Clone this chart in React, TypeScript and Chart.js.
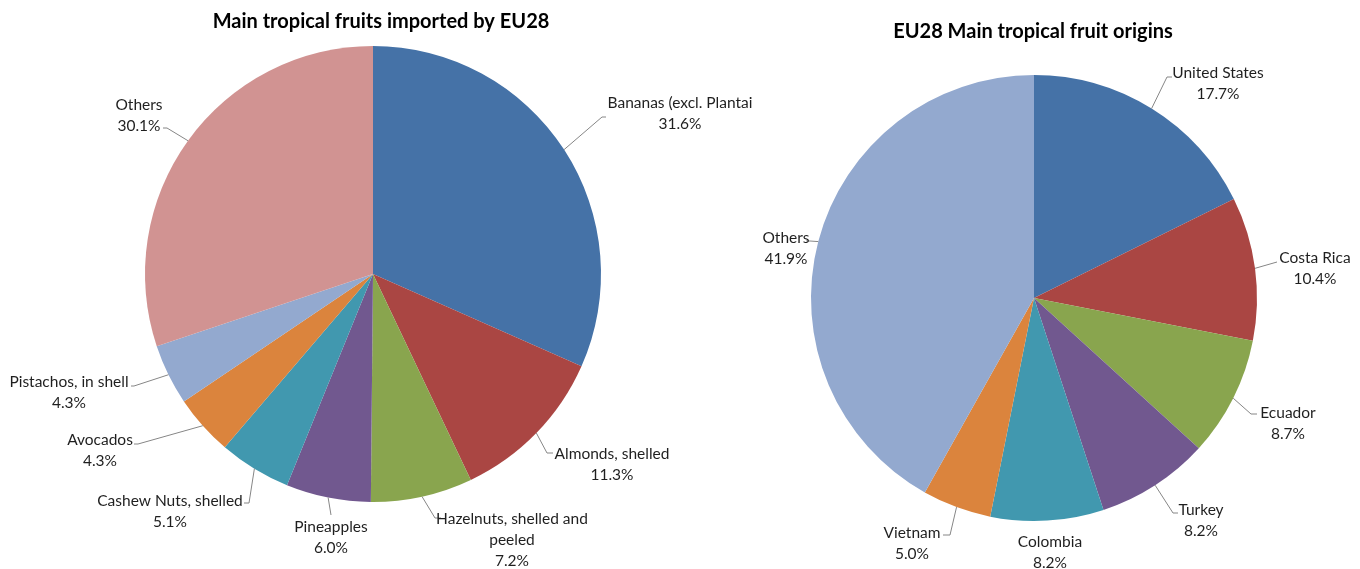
import React, { useEffect, useRef } from "react";
import { Chart, registerables } from "chart.js";

Chart.register(...registerables);

// ---------- data ----------
const leftTitle = "Main tropical fruits imported by EU28";
const leftCategories = [
  "Bananas (excl. Plantai",
  "Almonds, shelled",
  "Hazelnuts, shelled and\npeeled",
  "Pineapples",
  "Cashew Nuts, shelled",
  "Avocados",
  "Pistachos, in shell",
  "Others",
];
const leftValues = [31.6, 11.3, 7.2, 6.0, 5.1, 4.3, 4.3, 30.1];

const rightTitle = "EU28 Main tropical fruit origins";
const rightCategories = [
  "United States",
  "Costa Rica",
  "Ecuador",
  "Turkey",
  "Colombia",
  "Vietnam",
  "Others",
];
const rightValues = [17.7, 10.4, 8.7, 8.2, 8.2, 5.0, 41.9];

// ---------- styles / layout ----------
const leftColors = ["#4572A7", "#AA4643", "#89A54E", "#71588F", "#4198AF", "#DB843D", "#93A9CF", "#D19392"];
const rightColors = ["#4572A7", "#AA4643", "#89A54E", "#71588F", "#4198AF", "#DB843D", "#93A9CF"];

type LabelPos = { tx: number; ty: number; leader: number[][] };

// page coordinates: text centre of first line, leader-line points after the slice edge
const leftLabelPos: LabelPos[] = [
  { tx: 680, ty: 103, leader: [[602, 117], [606, 117]] },
  { tx: 612, ty: 454, leader: [[547, 453], [553, 453]] },
  { tx: 512, ty: 519, leader: [[435, 518], [441, 518]] },
  { tx: 331, ty: 527, leader: [[331, 515]] },
  { tx: 170, ty: 501, leader: [[249, 503], [244, 503]] },
  { tx: 100, ty: 440, leader: [[138, 444], [134, 444]] },
  { tx: 69, ty: 382, leader: [[134, 386], [131, 386]] },
  { tx: 139, ty: 105, leader: [[167, 128], [163, 128]] },
];
const rightLabelPos: LabelPos[] = [
  { tx: 1218, ty: 73, leader: [[1167, 77], [1172, 77]] },
  { tx: 1315, ty: 258, leader: [[1277, 262]] },
  { tx: 1288, ty: 413, leader: [[1251, 414], [1257, 414]] },
  { tx: 1201, ty: 510, leader: [[1173, 513], [1178, 513]] },
  { tx: 1050, ty: 542, leader: [] },
  { tx: 912, ty: 533, leader: [[950, 535], [943, 535]] },
  { tx: 786, ty: 238, leader: [[810, 241], [806, 241]] },
];

const FONT_FAMILY = "Lato, 'Open Sans', 'DejaVu Sans', sans-serif";
const LABEL_FONT = `15.5px ${FONT_FAMILY}`;
const TITLE_FONT = `bold 20px ${FONT_FAMILY}`;
const TEXT_COLOR = "#1f1f1f";
const LINE_COLOR = "#868686";
const LINE_HEIGHT = 21;

type PieSpec = {
  title: string;
  titleX: number;
  titleY: number;
  categories: string[];
  values: number[];
  colors: string[];
  labelPos: LabelPos[];
  padding: { left: number; right: number; top: number; bottom: number };
};

const CANVAS_W = 1360;
const CANVAS_H = 569;

const leftSpec: PieSpec = {
  title: leftTitle,
  titleX: 381,
  titleY: 22,
  categories: leftCategories,
  values: leftValues,
  colors: leftColors,
  labelPos: leftLabelPos,
  // centre (373, 274), radius 228
  padding: { left: 145, right: CANVAS_W - 601, top: 46, bottom: CANVAS_H - 502 },
};

const rightSpec: PieSpec = {
  title: rightTitle,
  titleX: 1033,
  titleY: 32,
  categories: rightCategories,
  values: rightValues,
  colors: rightColors,
  labelPos: rightLabelPos,
  // centre (1034, 298), radius 223
  padding: { left: 1034 - 223, right: CANVAS_W - (1034 + 223), top: 75, bottom: CANVAS_H - 521 },
};

function makeLabelPlugin(spec: PieSpec) {
  return {
    id: "pieLabels",
    afterDatasetsDraw(chart: any) {
      const ctx = chart.ctx as CanvasRenderingContext2D;
      const meta = chart.getDatasetMeta(0);
      ctx.save();
      ctx.font = TITLE_FONT;
      ctx.fillStyle = "#000000";
      ctx.textAlign = "center";
      ctx.textBaseline = "middle";
      ctx.fillText(spec.title, spec.titleX, spec.titleY);

      meta.data.forEach((arc: any, i: number) => {
        const { x, y, startAngle, endAngle, outerRadius } = arc.getProps(
          ["x", "y", "startAngle", "endAngle", "outerRadius"],
          true
        );
        const mid = (startAngle + endAngle) / 2;
        const ex = x + Math.cos(mid) * outerRadius;
        const ey = y + Math.sin(mid) * outerRadius;
        const pos = spec.labelPos[i];
        if (pos.leader.length) {
          ctx.beginPath();
          ctx.strokeStyle = LINE_COLOR;
          ctx.lineWidth = 1;
          ctx.moveTo(ex, ey);
          pos.leader.forEach((p) => ctx.lineTo(p[0], p[1]));
          ctx.stroke();
        }
        const lines = spec.categories[i].split("\n");
        lines.push(spec.values[i].toFixed(1) + "%");
        ctx.font = LABEL_FONT;
        ctx.fillStyle = TEXT_COLOR;
        ctx.textAlign = "center";
        ctx.textBaseline = "middle";
        lines.forEach((ln, k) => {
          ctx.fillText(ln, pos.tx, pos.ty + k * LINE_HEIGHT);
        });
      });
      ctx.restore();
    },
  };
}

function PieCanvas({ spec }: { spec: PieSpec }) {
  const ref = useRef<HTMLCanvasElement | null>(null);
  useEffect(() => {
    if (!ref.current) return;
    const chart = new Chart(ref.current, {
      type: "pie",
      data: {
        labels: spec.categories,
        datasets: [
          {
            data: spec.values,
            backgroundColor: spec.colors,
            borderWidth: 0,
            hoverOffset: 0,
            offset: 0,
          },
        ],
      },
      options: {
        responsive: false,
        animation: false,
        events: [],
        layout: { padding: spec.padding },
        plugins: {
          legend: { display: false },
          title: { display: false },
          tooltip: { enabled: false },
        },
      },
      plugins: [makeLabelPlugin(spec)],
    });
    return () => chart.destroy();
  }, [spec]);
  return (
    <canvas
      ref={ref}
      width={CANVAS_W}
      height={CANVAS_H}
      style={{ position: "absolute", left: 0, top: 0, width: CANVAS_W, height: CANVAS_H }}
    />
  );
}

export default function App() {
  return (
    <div
      style={{
        position: "fixed",
        left: 0,
        top: 0,
        width: 1360,
        height: 569,
        background: "#ffffff",
        overflow: "hidden",
      }}
    >
      <PieCanvas spec={leftSpec} />
      <PieCanvas spec={rightSpec} />
    </div>
  );
}
